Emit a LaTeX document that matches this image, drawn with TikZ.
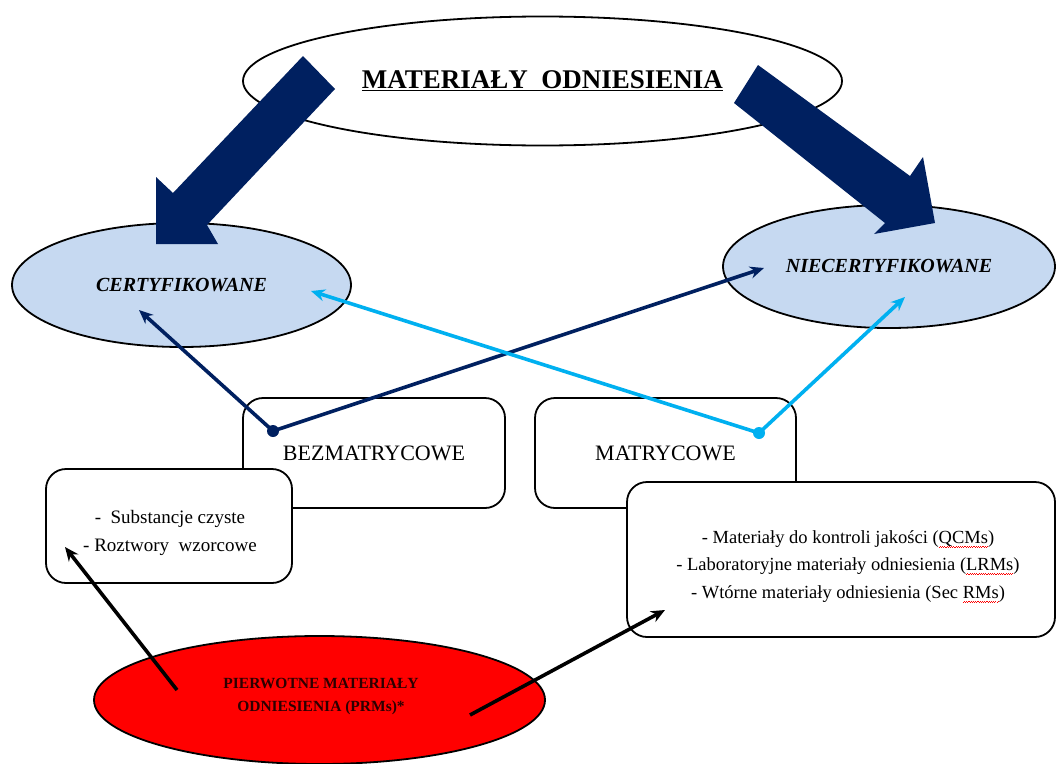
\documentclass[tikz,border=0pt]{standalone}
\usepackage{fontspec}
\setmainfont{Liberation Serif}
\usetikzlibrary{shapes.geometric,arrows.meta}
\definecolor{navy}{RGB}{0,32,96}
\definecolor{lblue}{RGB}{0,176,240}
\definecolor{ellfill}{RGB}{198,217,241}
\definecolor{prmtext}{RGB}{45,0,0}
\newsavebox\wavebox
\newcommand\redwave[1]{\sbox\wavebox{#1}\rlap{\textcolor{red}{\hbox to \wd\wavebox{\xleaders\hbox{\rule[-4.5pt]{1.1pt}{0.9pt}\rule[-3.5pt]{1.1pt}{0.9pt}}\hfill}}}\usebox\wavebox}
\tikzset{
  ell/.style={ellipse, draw=black, line width=1.8pt, inner sep=0pt},
  blueell/.style={ell, fill=ellfill, font=\fontsize{20}{24}\selectfont\bfseries\itshape},
  rbox/.style={draw=black, line width=1.8pt, rounded corners=20pt, fill=white, inner sep=0pt, align=center},
  boxtext/.style={inner sep=0pt, align=center},
  bigarrow/.style={fill=navy, draw=none},
  conn/.style={line width=3.6pt, -{Stealth[length=14pt,width=12pt]}},
  dotc/.style={circle, inner sep=0pt, minimum size=12pt}
}
\begin{document}
\begin{tikzpicture}[x=1pt,y=-1pt]
\useasboundingbox (0,0) rectangle (1057,763);
\fill[white] (0,0) rectangle (1057,763);

% top ellipse
\node[ell, fill=white, minimum width=599pt, minimum height=129pt,
  font=\fontsize{27}{30}\selectfont\bfseries] (top) at (542.5,81) {\underline{MATERIAŁY\ \ ODNIESIENIA}};

% blue ellipses
\node[blueell, minimum width=339pt, minimum height=124pt] (cert) at (181.5,285) {CERTYFIKOWANE};
\node[blueell, minimum width=332pt, minimum height=123pt] (niecert) at (889,266.5) {NIECERTYFIKOWANE};

% big arrows
\path[bigarrow] (303,56) -- (335,89) -- (207,225) -- (218,244) -- (156,244) -- (156,177) -- (173,193) -- cycle;
\path[bigarrow] (758,65) -- (910,176) -- (923,157) -- (935,223) -- (874,234) -- (885,223) -- (734,103) -- cycle;

% middle boxes
\node[rbox, minimum width=262pt, minimum height=110pt, font=\fontsize{22}{26}\selectfont] (bez) at (374,453) {BEZMATRYCOWE};
\node[rbox, minimum width=261pt, minimum height=110pt, font=\fontsize{22}{26}\selectfont] (mat) at (665.5,453) {MATRYCOWE};

% lower boxes
\node[rbox, minimum width=246pt, minimum height=114pt] (sub) at (169,526) {};
\node[boxtext, font=\fontsize{19}{28}\selectfont] (subtxt) at (170,532.5)
  {-\ \ Substancje czyste\\- Roztwory\ \ wzorcowe};
\node[rbox, minimum width=428pt, minimum height=155pt] (qc) at (841,559.5) {};
\node[boxtext, font=\fontsize{18.5}{27.5}\selectfont] (qctxt) at (848,566.5)
  {- Materiały do kontroli jakości (\redwave{QCMs})\\- Laboratoryjne materiały odniesienia (\redwave{LRMs})\\- Wtórne materiały odniesienia (Sec \redwave{RMs})};

% connector end points
\coordinate (bzdot) at (273,431);
\coordinate (mtdot) at (759,433);
\coordinate (certL) at (139,310);
\coordinate (certR) at (311,291);
\coordinate (nieL) at (764,268);
\coordinate (nieR) at (905,297);

% blue connectors
\draw[conn, draw=navy, fill=navy] (bzdot) -- (certL);
\draw[conn, draw=navy, fill=navy] (bzdot) -- (nieL);
\draw[conn, draw=lblue, fill=lblue] (mtdot) -- (certR);
\draw[conn, draw=lblue, fill=lblue] (mtdot) -- (nieR);
\node[dotc, fill=navy] (bzd) at (bzdot) {};
\node[dotc, fill=lblue] (mtd) at (mtdot) {};

% red ellipse
\node[ell, fill=red, minimum width=451pt, minimum height=128pt] (prm) at (319.5,700) {};
\node[boxtext, font=\fontsize{15.5}{23}\selectfont\bfseries, text=prmtext] (prmtxt) at (321,697)
  {PIERWOTNE MATERIAŁY\\ODNIESIENIA (PRMs)*};

\coordinate (prmL) at (177,690);
\coordinate (prmR) at (470,715);
\coordinate (subT) at (65,547);
\coordinate (qcT) at (665,610);
\draw[conn, draw=black, fill=black] (prmL) -- (subT);
\draw[conn, draw=black, fill=black] (prmR) -- (qcT);
\end{tikzpicture}
\end{document}
